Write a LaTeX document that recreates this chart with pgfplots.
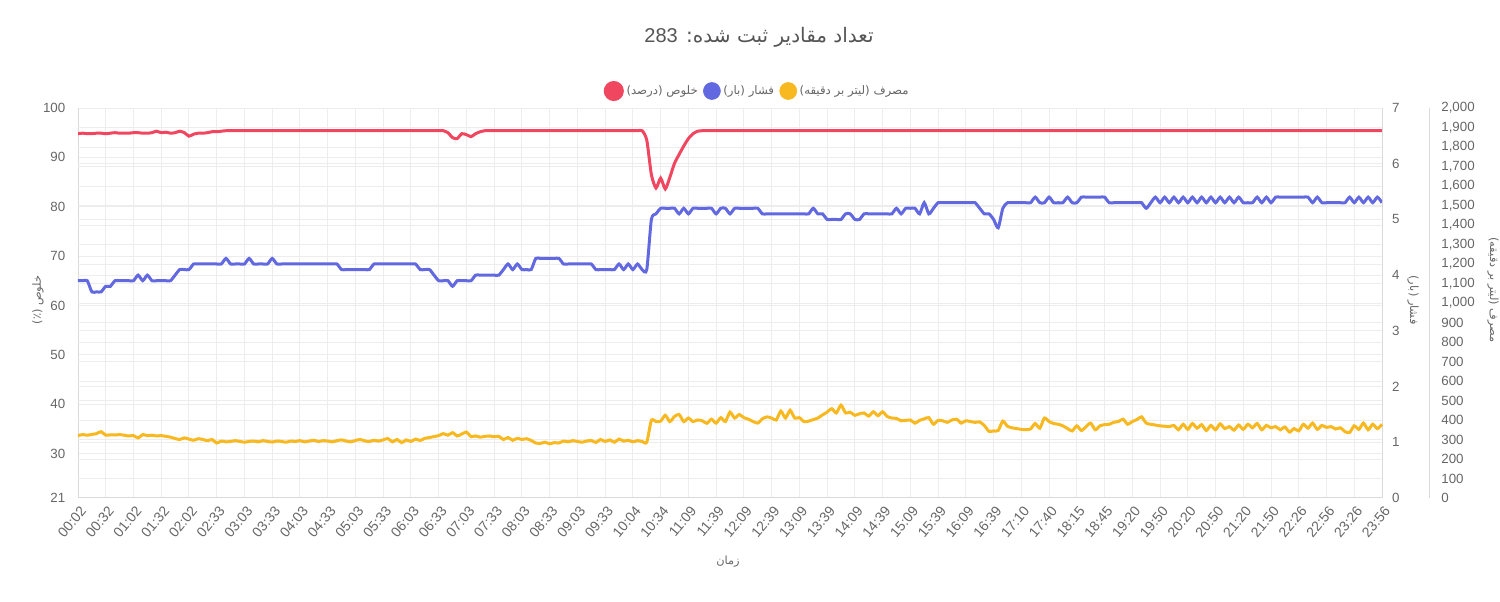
\documentclass[border=0pt]{standalone}
\usepackage{fontspec}
\setmainfont{Liberation Sans}
\newfontfamily\arabicfont[Script=Arabic]{DejaVu Sans}
\TeXXeTstate=1
\usepackage{pgfplots}
\usepackage{pgfplotstable}
\pgfplotsset{compat=1.18}
\definecolor{cred}{HTML}{F0465F}
\definecolor{cblue}{HTML}{6168E0}
\definecolor{cyel}{HTML}{F8B820}
\definecolor{ctxt}{HTML}{666666}
\definecolor{ctitle}{HTML}{555555}
\definecolor{cgrid}{HTML}{EDEDED}
\definecolor{caxis}{HTML}{DADADA}
\newcommand{\fa}[1]{{\arabicfont\beginR #1\endR}}

\pgfplotstableread{
i R B Y
0 94.8 3.9 320
1 94.9 3.9 325
2 94.8 3.9 322
3 94.8 3.7 326
4 94.9 3.7 330
5 94.9 3.7 340
6 94.8 3.8 322
7 94.9 3.8 324
8 95.0 3.9 323
9 94.9 3.9 325
10 94.9 3.9 322
11 94.9 3.9 318
12 95.0 3.9 320
13 95.0 4.0 308
14 94.9 3.9 325
15 94.9 4.0 320
16 95.0 3.9 322
17 95.3 3.9 318
18 95.0 3.9 320
19 95.1 3.9 316
20 94.9 3.9 312
21 95.0 4.0 305
22 95.3 4.1 300
23 95.0 4.1 308
24 94.3 4.1 302
25 94.7 4.2 296
26 94.9 4.2 304
27 94.9 4.2 300
28 95.0 4.2 294
29 95.2 4.2 300
30 95.2 4.2 282
31 95.3 4.2 292
32 95.4 4.3 288
33 95.4 4.2 290
34 95.4 4.2 294
35 95.4 4.2 290
36 95.4 4.2 286
37 95.4 4.3 290
38 95.4 4.2 292
39 95.4 4.2 288
40 95.4 4.2 294
41 95.4 4.2 290
42 95.4 4.3 287
43 95.4 4.2 292
44 95.4 4.2 290
45 95.4 4.2 286
46 95.4 4.2 292
47 95.4 4.2 290
48 95.4 4.2 294
49 95.4 4.2 288
50 95.4 4.2 292
51 95.4 4.2 296
52 95.4 4.2 290
53 95.4 4.2 294
54 95.4 4.2 292
55 95.4 4.2 288
56 95.4 4.2 294
57 95.4 4.1 298
58 95.4 4.1 292
59 95.4 4.1 288
60 95.4 4.1 295
61 95.4 4.1 300
62 95.4 4.1 293
63 95.4 4.1 290
64 95.4 4.2 296
65 95.4 4.2 292
66 95.4 4.2 298
67 95.4 4.2 305
68 95.4 4.2 288
69 95.4 4.2 300
70 95.4 4.2 284
71 95.4 4.2 298
72 95.4 4.2 290
73 95.4 4.2 302
74 95.4 4.1 295
75 95.4 4.1 306
76 95.4 4.1 310
77 95.4 4.0 315
78 95.4 3.9 320
79 95.4 3.9 330
80 95.0 3.9 322
81 94.0 3.8 335
82 93.8 3.9 318
83 94.8 3.9 328
84 94.6 3.9 338
85 94.2 3.9 315
86 94.8 4.0 318
87 95.2 4.0 312
88 95.4 4.0 316
89 95.4 4.0 318
90 95.4 4.0 314
91 95.4 4.0 316
92 95.4 4.1 300
93 95.4 4.2 310
94 95.4 4.1 296
95 95.4 4.2 306
96 95.4 4.1 300
97 95.4 4.1 304
98 95.4 4.1 295
99 95.4 4.3 282
100 95.4 4.3 280
101 95.4 4.3 286
102 95.4 4.3 278
103 95.4 4.3 284
104 95.4 4.3 282
105 95.4 4.2 292
106 95.4 4.2 288
107 95.4 4.2 294
108 95.4 4.2 290
109 95.4 4.2 286
110 95.4 4.2 292
111 95.4 4.2 295
112 95.4 4.1 285
113 95.4 4.1 300
114 95.4 4.1 290
115 95.4 4.1 298
116 95.4 4.1 286
117 95.4 4.2 302
118 95.4 4.1 292
119 95.4 4.2 296
120 95.4 4.1 288
121 95.4 4.2 294
122 95.4 4.1 290
123 93.5 4.1 286
124 86.5 5.0 398
125 83.8 5.1 392
126 85.8 5.2 394
127 83.6 5.2 424
128 86.0 5.2 392
129 88.8 5.2 418
130 90.6 5.1 428
131 92.3 5.2 392
132 93.8 5.1 410
133 94.8 5.2 392
134 95.3 5.2 400
135 95.4 5.2 396
136 95.4 5.2 383
137 95.4 5.2 404
138 95.4 5.1 384
139 95.4 5.2 412
140 95.4 5.2 392
141 95.4 5.1 440
142 95.4 5.2 410
143 95.4 5.2 428
144 95.4 5.2 412
145 95.4 5.2 404
146 95.4 5.2 392
147 95.4 5.2 384
148 95.4 5.1 406
149 95.4 5.1 416
150 95.4 5.1 410
151 95.4 5.1 400
152 95.4 5.1 446
153 95.4 5.1 410
154 95.4 5.1 450
155 95.4 5.1 410
156 95.4 5.1 412
157 95.4 5.1 392
158 95.4 5.1 394
159 95.4 5.2 402
160 95.4 5.1 410
161 95.4 5.1 426
162 95.4 5.0 440
163 95.4 5.0 458
164 95.4 5.0 436
165 95.4 5.0 476
166 95.4 5.1 436
167 95.4 5.1 440
168 95.4 5.0 424
169 95.4 5.0 432
170 95.4 5.1 436
171 95.4 5.1 420
172 95.4 5.1 442
173 95.4 5.1 422
174 95.4 5.1 442
175 95.4 5.1 418
176 95.4 5.1 410
177 95.4 5.2 408
178 95.4 5.1 396
179 95.4 5.2 398
180 95.4 5.2 400
181 95.4 5.2 384
182 95.4 5.1 398
183 95.4 5.3 406
184 95.4 5.1 412
185 95.4 5.2 378
186 95.4 5.3 398
187 95.4 5.3 396
188 95.4 5.3 388
189 95.4 5.3 400
190 95.4 5.3 404
191 95.4 5.3 384
192 95.4 5.3 396
193 95.4 5.3 392
194 95.4 5.3 388
195 95.4 5.2 390
196 95.4 5.1 372
197 95.4 5.1 342
198 95.4 5.0 344
199 95.4 4.85 346
200 95.4 5.2 394
201 95.4 5.3 368
202 95.4 5.3 360
203 95.4 5.3 356
204 95.4 5.3 352
205 95.4 5.3 350
206 95.4 5.3 354
207 95.4 5.4 382
208 95.4 5.3 358
209 95.4 5.3 410
210 95.4 5.4 392
211 95.4 5.3 382
212 95.4 5.3 378
213 95.4 5.3 370
214 95.4 5.4 356
215 95.4 5.3 344
216 95.4 5.3 370
217 95.4 5.4 346
218 95.4 5.4 366
219 95.4 5.4 384
220 95.4 5.4 350
221 95.4 5.4 370
222 95.4 5.4 376
223 95.4 5.3 378
224 95.4 5.3 388
225 95.4 5.3 392
226 95.4 5.3 404
227 95.4 5.3 378
228 95.4 5.3 392
229 95.4 5.3 402
230 95.4 5.3 416
231 95.4 5.2 384
232 95.4 5.3 378
233 95.4 5.4 374
234 95.4 5.3 370
235 95.4 5.4 368
236 95.4 5.3 366
237 95.4 5.4 372
238 95.4 5.3 350
239 95.4 5.4 378
240 95.4 5.3 352
241 95.4 5.4 382
242 95.4 5.3 358
243 95.4 5.4 376
244 95.4 5.3 346
245 95.4 5.4 372
246 95.4 5.3 350
247 95.4 5.4 380
248 95.4 5.3 356
249 95.4 5.4 366
250 95.4 5.3 348
251 95.4 5.4 374
252 95.4 5.3 352
253 95.4 5.3 378
254 95.4 5.3 360
255 95.4 5.4 382
256 95.4 5.3 350
257 95.4 5.4 372
258 95.4 5.3 360
259 95.4 5.4 366
260 95.4 5.4 350
261 95.4 5.4 364
262 95.4 5.4 338
263 95.4 5.4 356
264 95.4 5.4 344
265 95.4 5.4 378
266 95.4 5.4 358
267 95.4 5.3 384
268 95.4 5.4 352
269 95.4 5.3 372
270 95.4 5.3 362
271 95.4 5.3 366
272 95.4 5.3 354
273 95.4 5.3 360
274 95.4 5.3 340
275 95.4 5.4 336
276 95.4 5.3 370
277 95.4 5.4 352
278 95.4 5.3 384
279 95.4 5.4 350
280 95.4 5.3 378
281 95.4 5.4 356
282 95.4 5.3 378
}\datatable

\begin{document}
\begin{tikzpicture}
\useasboundingbox (-58.5pt,-78pt) rectangle (1066.5pt,373.5pt);
\pgfplotsset{
  base/.style={scale only axis, width=978pt, height=292.5pt, at={(0pt,0pt)}, anchor=south west,
    xmin=0, xmax=282,
    tick label style={font=\fontsize{10}{12}\selectfont, text=ctxt},
    /pgf/number format/assume math mode=true,
    major tick length=0pt,
    axis line style={draw=caxis, line width=0.75pt, -}},
  legend image code/.code={\fill[#1] (6pt,0pt) circle (6.4pt);}
}
% axis 1: purity (left) with grids
\begin{axis}[base, ymin=21, ymax=100,
  ytick={21,30,40,50,60,70,80,90,100},
  yticklabel style={xshift=-6pt},
  xtick={0,6,...,282},
  xticklabels={00:02,00:32,01:02,01:32,02:02,02:33,03:03,03:33,04:03,04:33,05:03,05:33,06:03,06:33,07:03,07:33,08:03,08:33,09:03,09:33,10:04,10:34,11:09,11:39,12:09,12:39,13:09,13:39,14:09,14:39,15:09,15:39,16:09,16:39,17:10,17:40,18:15,18:45,19:20,19:50,20:20,20:50,21:20,21:50,22:26,22:56,23:26,23:56},
  xticklabel style={rotate=50, anchor=east, xshift=0pt, yshift=-8pt, font=\fontsize{10.5}{12}\selectfont},
  axis x line*=bottom, axis y line*=left,
  xmajorgrids, ymajorgrids, grid style={draw=cgrid, line width=0.75pt},
  extra y ticks={24.95,28.9,32.85,36.8,40.75,44.7,48.65,52.6,56.55,60.5,64.45,68.4,72.35,76.3,80.25,84.2,88.15,92.1,96.05,32.286,43.571,54.857,66.143,77.429,88.714},
  extra y tick labels={},
  extra y tick style={grid=major, major grid style={draw=cgrid, line width=0.6pt}},
  legend style={at={(0.5211,1.0436)}, anchor=center, draw=none, fill=none,
    legend columns=3, font=\fontsize{8.8}{10}\selectfont, text=ctxt,
    /tikz/every even column/.append style={column sep=2pt}},
]
\addplot[cred, line width=2.25pt, smooth, tension=0.4] table[x=i, y=R]{\datatable};
\addlegendentry{\fa{خلوص (درصد)}}
\addlegendimage{cblue}
\addlegendentry{\fa{فشار (بار)}}
\addlegendimage{cyel}
\addlegendentry{\fa{مصرف (لیتر بر دقیقه)}}
\end{axis}
% axis 2: pressure (right)
\begin{axis}[base, ymin=0, ymax=7, ytick={0,1,...,7},
  hide x axis, axis y line*=right,
  yticklabel style={anchor=west, xshift=4pt}]
\addplot[cblue, line width=2.25pt, smooth, tension=0.4] table[x=i, y=B]{\datatable};
\end{axis}
% axis 3: flow (far right)
\begin{axis}[base, width=1014pt, xmax=292.38, ymin=0, ymax=2000,
  ytick={0,100,...,2000},
  hide x axis, axis y line*=right,
  yticklabel style={anchor=west, xshift=5pt}]
\addplot[cyel, line width=2.25pt, smooth, tension=0.4] table[x=i, y=Y]{\datatable};
\end{axis}
% titles
\node[font=\fontsize{15}{18}\selectfont, text=ctitle] at (510.75pt,345.75pt)
  {\fa{تعداد مقادیر ثبت شده: \beginL{\normalfont 283}\endL}};
\node[font=\fontsize{8.5}{10}\selectfont, text=ctxt] at (487.5pt,-48pt) {\fa{زمان}};
\node[font=\fontsize{8.5}{10}\selectfont, text=ctxt, rotate=90] at (-30pt,148.5pt) {\fa{خلوص (٪)}};
\node[font=\fontsize{8.5}{10}\selectfont, text=ctxt, rotate=-90] at (1001.25pt,148.5pt) {\fa{فشار (بار)}};
\node[font=\fontsize{8.5}{10}\selectfont, text=ctxt, rotate=-90] at (1061.25pt,156pt) {\fa{مصرف (لیتر بر دقیقه)}};
\end{tikzpicture}
\end{document}
